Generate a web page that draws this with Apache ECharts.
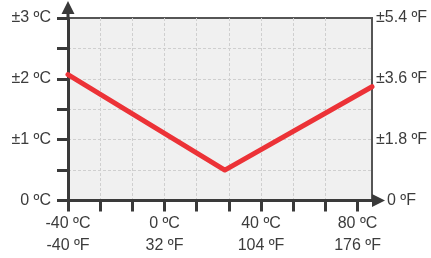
<!DOCTYPE html>
<html>
<head>
  <meta charset="utf-8">
  <script src="https://cdn.jsdelivr.net/npm/echarts@6/dist/echarts.min.js"></script>
  <style>
    html, body { margin: 0; padding: 0; background: #fff; }
  </style>
</head>
<body>
  <div id="main" style="width: 431px; height: 258px;"></div>

  <script>
    // accuracy curve: temperature (°C) -> ± error (°C)
    var tempC = [-40, 25, 86];
    var errC = [2.07, 0.5, 1.87];

    // axis ticks and labels
    var xTickStep = 40 / 3;
    var xTicks = [-40, -40 + 40 / 3, -40 + 80 / 3, 0, 40 / 3, 80 / 3, 40, 40 + 40 / 3, 40 + 80 / 3, 80];
    var xLabelValues = [-40, 0, 40, 80];
    var xLabelsC = ['-40 ºC', '0 ºC', '40 ºC', '80 ºC'];
    var xLabelsF = ['-40 ºF', '32 ºF', '104 ºF', '176 ºF'];
    var leftLabels = ['0 ºC', '±1 ºC', '±2 ºC', '±3 ºC'];
    var rightLabels = ['0 ºF', '±1.8 ºF', '±3.6 ºF', '±5.4 ºF'];

    var FONT = "'Liberation Sans', Arial, sans-serif";
    var AXIS = '#3a3a3a';
    var TXT = '#3c3c3c';
    var FS = 16;

    var chart = echarts.init(document.getElementById('main'));

    var pts = [];
    for (var i = 0; i < tempC.length; i++) pts.push([tempC[i], errC[i]]);

    var option = {
      animation: false,
      grid: {
        left: 68, right: 59, top: 18, bottom: 57.5,
        show: true,
        backgroundColor: '#f0f0f0',
        borderColor: '#555',
        borderWidth: 2
      },
      xAxis: {
        type: 'value',
        min: -40,
        max: 86,
        interval: xTickStep,
        axisLine: {
          show: true,
          onZero: false,
          lineStyle: { color: AXIS, width: 3 },
          symbol: ['none', 'path://M6.5 0L13 13L0 13Z'],
          symbolSize: [13, 13],
          symbolOffset: [0, 6.5]
        },
        axisTick: {
          show: true,
          length: 11,
          customValues: xTicks,
          lineStyle: { color: AXIS, width: 3 }
        },
        axisLabel: {
          customValues: xLabelValues,
          margin: 12,
          color: TXT,
          fontFamily: FONT,
          fontSize: FS,
          lineHeight: 22,
          formatter: function (v) {
            for (var k = 0; k < xLabelValues.length; k++) {
              if (Math.abs(v - xLabelValues[k]) < 0.01) return xLabelsC[k] + '\n' + xLabelsF[k];
            }
            return '';
          }
        },
        splitLine: {
          show: true,
          showMaxLine: false,
          lineStyle: { color: '#cfcfcf', type: [3, 2], width: 1 }
        }
      },
      yAxis: [
        {
          type: 'value',
          min: 0,
          max: 3,
          interval: 0.5,
          axisLine: {
            show: true,
            onZero: false,
            lineStyle: { color: AXIS, width: 3 },
            symbol: ['none', 'path://M6.5 0L13 13L8 13L8 17L5 17L5 13L0 13Z'],
            symbolSize: [13, 17],
            symbolOffset: [0, 8.5]
          },
          axisTick: {
            show: true,
            length: 11,
            lineStyle: { color: AXIS, width: 3 }
          },
          axisLabel: {
            margin: 17,
            color: TXT,
            fontFamily: FONT,
            fontSize: FS,
            formatter: function (v) {
              var r = Math.round(v);
              if (Math.abs(v - r) > 0.01) return '';
              return leftLabels[r];
            }
          },
          splitLine: {
            show: true,
            showMaxLine: false,
            lineStyle: { color: '#cfcfcf', type: [3, 2], width: 1 }
          }
        },
        {
          type: 'value',
          position: 'right',
          min: 0,
          max: 5.4,
          interval: 1.8,
          axisLine: { show: false },
          axisTick: { show: false },
          splitLine: { show: false },
          axisLabel: {
            margin: 4,
            color: TXT,
            fontFamily: FONT,
            fontSize: FS,
            formatter: function (v) {
              var idx = Math.round(v / 1.8);
              if (idx === 0) return '{z|' + rightLabels[0] + '}';
              return rightLabels[idx];
            },
            rich: {
              z: { padding: [0, 0, 0, 11], color: TXT, fontFamily: FONT, fontSize: FS }
            }
          }
        }
      ],
      series: [
        {
          type: 'line',
          yAxisIndex: 0,
          data: pts,
          showSymbol: false,
          lineStyle: { color: '#ec3237', width: 5, cap: 'round', join: 'round' },
          z: 5
        }
      ]
    };

    chart.setOption(option);
  </script>
</body>
</html>
